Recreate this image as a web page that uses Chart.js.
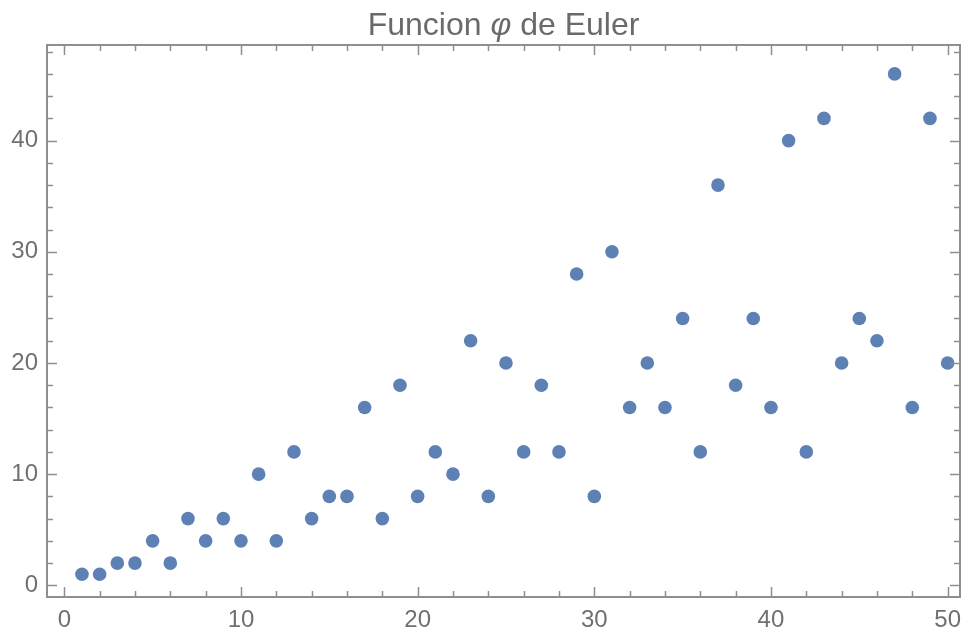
<!DOCTYPE html>
<html>
<head>
<meta charset="utf-8">
<script src="https://cdn.jsdelivr.net/npm/chart.js@4"></script>
<style>
  html, body { margin: 0; padding: 0; background: #fff; }
  #wrap { width: 961px; height: 634px; }
</style>
</head>
<body>
<div id="wrap"><canvas id="grafico" width="961" height="634"></canvas></div>
<script>
// n y phi(n)
const nValues = [1,2,3,4,5,6,7,8,9,10,11,12,13,14,15,16,17,18,19,20,21,22,23,24,25,
  26,27,28,29,30,31,32,33,34,35,36,37,38,39,40,41,42,43,44,45,46,47,48,49,50];
const phiValues = [1,1,2,2,4,2,6,4,6,4,10,4,12,6,8,8,16,6,18,8,12,10,22,8,20,
  12,18,12,28,8,30,16,20,16,24,12,36,18,24,16,40,12,42,20,24,22,46,16,42,20];
const xTicks = [0, 10, 20, 30, 40, 50];
const yTicks = [0, 10, 20, 30, 40];
const xMinorTicks = [0,2,4,6,8,10,12,14,16,18,20,22,24,26,28,30,32,34,36,38,40,42,44,46,48,50];
const yMinorTicks = [0,2,4,6,8,10,12,14,16,18,20,22,24,26,28,30,32,34,36,38,40,42,44,46,48];

const FONT = '"Liberation Sans", Arial, sans-serif';
const GRAY = '#707070';
const FRAME = '#8f8f8f';

// marco con ticks hacia adentro en los 4 lados (estilo Mathematica)
const framePlugin = {
  id: 'frame',
  afterDraw(chart) {
    const { ctx, chartArea: a, scales } = chart;
    const sx = scales.x, sy = scales.y;
    ctx.save();
    ctx.strokeStyle = FRAME;
    ctx.lineWidth = 1.5;
    ctx.beginPath();
    xMinorTicks.forEach(v => {
      const px = Math.round(sx.getPixelForValue(v)) + 0.5;
      const len = xTicks.includes(v) ? 10 : 6;
      ctx.moveTo(px, a.bottom); ctx.lineTo(px, a.bottom - len);
      ctx.moveTo(px, a.top); ctx.lineTo(px, a.top + len);
    });
    yMinorTicks.forEach(v => {
      const py = Math.round(sy.getPixelForValue(v)) + 0.5;
      const len = yTicks.includes(v) ? 10 : 6;
      ctx.moveTo(a.left, py); ctx.lineTo(a.left + len, py);
      ctx.moveTo(a.right, py); ctx.lineTo(a.right - len, py);
    });
    ctx.stroke();
    ctx.lineWidth = 2;
    ctx.strokeRect(a.left, a.top, a.right - a.left, a.bottom - a.top);

    // titulo con phi en cursiva
    const parts = [['Funcion ', 'normal'], ['\u03C6', 'italic'], [' de Euler', 'normal']];
    let total = 0;
    parts.forEach(p => { ctx.font = p[1] + ' 32px ' + FONT; total += ctx.measureText(p[0]).width; });
    let x = (a.left + a.right) / 2 - total / 2;
    ctx.fillStyle = '#6a6a6a';
    ctx.textBaseline = 'alphabetic';
    parts.forEach(p => {
      ctx.font = p[1] + ' 32px ' + FONT;
      ctx.fillText(p[0], x, 35);
      x += ctx.measureText(p[0]).width;
    });
    ctx.restore();
  }
};

new Chart(document.getElementById('grafico'), {
  type: 'scatter',
  data: {
    datasets: [{
      data: nValues.map((n, i) => ({ x: n, y: phiValues[i] })),
      backgroundColor: '#5e81b5',
      borderWidth: 0,
      pointRadius: 6.8,
      pointHoverRadius: 6.8
    }]
  },
  options: {
    responsive: false,
    animation: false,
    layout: { autoPadding: false, padding: { top: 45, right: 1, left: 0, bottom: 0 } },
    plugins: { legend: { display: false }, tooltip: { enabled: false }, title: { display: false } },
    scales: {
      x: {
        type: 'linear',
        min: -0.98,
        max: 50.7,
        grid: { display: false, drawTicks: false },
        border: { display: false },
        afterBuildTicks: s => { s.ticks = xTicks.map(v => ({ value: v })); },
        afterFit: s => { s.height = 37; s.paddingLeft = 0; s.paddingRight = 0; },
        ticks: { color: GRAY, font: { family: FONT, size: 24 }, padding: 9, maxRotation: 0 }
      },
      y: {
        type: 'linear',
        min: -1.05,
        max: 48.6,
        grid: { display: false, drawTicks: false },
        border: { display: false },
        afterBuildTicks: s => { s.ticks = yTicks.map(v => ({ value: v })); },
        afterFit: s => { s.width = 47; s.paddingTop = 0; s.paddingBottom = 0; },
        ticks: { color: GRAY, font: { family: FONT, size: 24 }, padding: 9 }
      }
    }
  },
  plugins: [framePlugin]
});
</script>
</body>
</html>
